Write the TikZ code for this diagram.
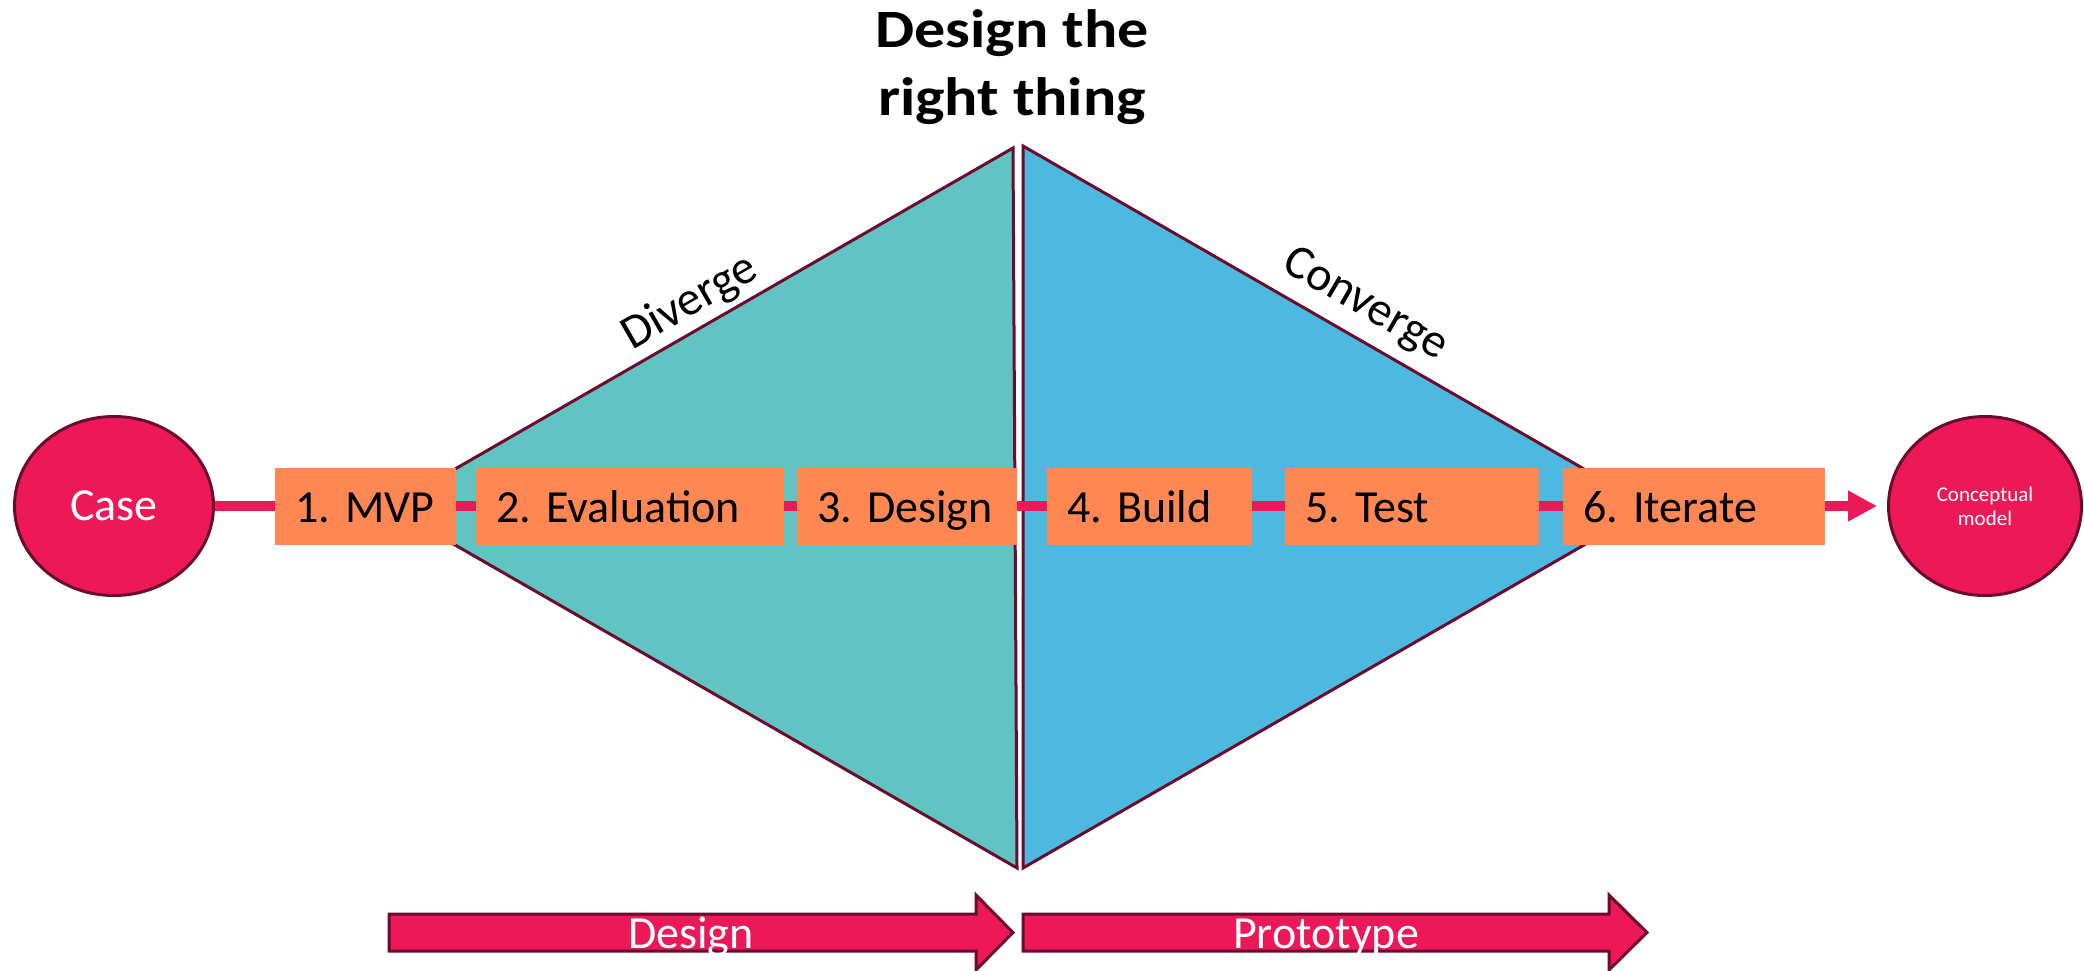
\documentclass[tikz,border=0pt]{standalone}
\usepackage{fontspec}
\setmainfont{Carlito}
\usetikzlibrary{arrows.meta,shapes.geometric}
\definecolor{pinkc}{HTML}{EC1857}
\definecolor{orangec}{HTML}{FF8754}
\definecolor{tealc}{HTML}{62C4C2}
\definecolor{bluec}{HTML}{4DB9E0}
\definecolor{maroonc}{HTML}{6B0B2E}
\pgfdeclarelayer{bg}
\pgfsetlayers{bg,main}
\begin{document}
\frenchspacing
\begin{tikzpicture}[x=1pt,y=-1pt,
  outl/.style={draw=maroonc, line width=3pt, line join=miter},
  stepbox/.style={fill=orangec, inner xsep=20pt, inner ysep=0pt, minimum height=77pt,
    text height=40pt, text depth=8pt,
    align=left, font=\fontsize{46}{55}\selectfont\frenchspacing},
  endnode/.style={ellipse, draw=maroonc, line width=3pt, fill=pinkc, text=white,
    inner sep=0pt, align=center},
  conn/.style={draw=pinkc, line width=9.5pt},
  sidelabel/.style={font=\fontsize{48}{58}\selectfont, inner sep=0pt},
  titlefont/.style={font=\bfseries\fontsize{54}{66}\selectfont, inner sep=0pt, xscale=1.15},
  barlabel/.style={font=\fontsize{46}{55}\selectfont, text=white, inner sep=0pt, anchor=base}
]
\useasboundingbox (0,0) rectangle (2084,970);

% end nodes
\node[endnode, minimum width=199pt, minimum height=179pt, font=\fontsize{46}{55}\selectfont] (case) at (114,506) {Case};
\node[endnode, minimum width=193pt, minimum height=179pt, font=\fontsize{21}{24}\selectfont] (cm) at (1985,506) {Conceptual\\model};

% step boxes
\node[stepbox, text width=141pt] (b1) at (365.5,506) {\mbox{1. MVP}};
\node[stepbox, text width=268pt] (b2) at (630,506) {\mbox{2. Evaluation}};
\node[stepbox, text width=180pt] (b3) at (907,506) {\mbox{3. Design}};
\node[stepbox, text width=165pt] (b4) at (1149.5,506) {\mbox{4. Build}};
\node[stepbox, text width=214pt] (b5) at (1412,506) {\mbox{5. Test}};
\node[stepbox, text width=222pt] (b6) at (1694,506) {\mbox{6. Iterate}};

\begin{pgfonlayer}{bg}
  % diverge / converge triangles
  \coordinate (lt) at (1013,148);
  \coordinate (lb) at (1017,868);
  \coordinate (lv) at (389,507);
  \coordinate (rt) at (1023,146);
  \coordinate (rb) at (1023,868);
  \coordinate (rv) at (1650,507);
  \draw[outl, fill=tealc] (lv) -- (lt) -- (lb) -- cycle;
  \draw[outl, fill=bluec] (rt) -- (rv) -- (rb) -- cycle;
  % connectors
  \draw[conn] (case) -- (b1);
  \draw[conn] (b1) -- (b2);
  \draw[conn] (b2) -- (b3);
  \draw[conn] (b3) -- (b4);
  \draw[conn] (b4) -- (b5);
  \draw[conn] (b5) -- (b6);
  \draw[conn, -{Triangle[length=29pt,width=29pt]}, shorten >=10pt] (b6) -- (cm);
\end{pgfonlayer}

% title
\node[titlefont, anchor=base] (title1) at (1012,47) {Design the};
\node[titlefont, anchor=base] (title2) at (1012,115) {right thing};

% side labels
\node[sidelabel, rotate=29.9] (div) at (690,303) {Diverge};
\node[sidelabel, rotate=-30] (conv) at (1365,305) {Converge};

% bottom arrows
\draw[outl, fill=pinkc] (389,914) -- (976,914) -- (976,895) -- (1013,932.5) -- (976,970) -- (976,951) -- (389,951) -- cycle;
\draw[outl, fill=pinkc] (1023,914) -- (1609,914) -- (1609,895) -- (1647,932.5) -- (1609,970) -- (1609,951) -- (1023,951) -- cycle;
\node[barlabel] (designlbl) at (691,948) {Design};
\node[barlabel] (protolbl) at (1326,948) {Prototype};
\end{tikzpicture}
\end{document}
